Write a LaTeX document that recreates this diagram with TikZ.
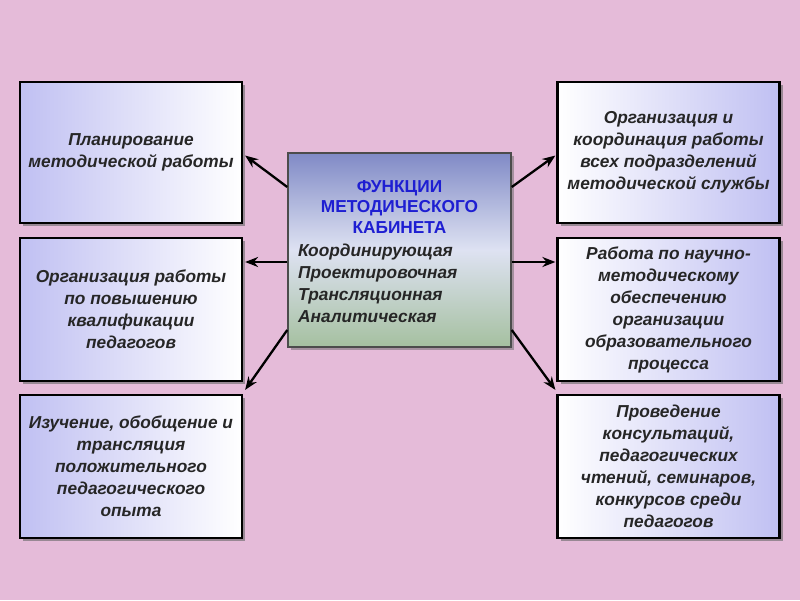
\documentclass[tikz,border=0pt]{standalone}
\usepackage{fontspec}
\setmainfont{Liberation Sans}
\usetikzlibrary{arrows.meta,shadows}
\definecolor{bg}{RGB}{229,187,217}
\definecolor{lav}{RGB}{192,192,242}
\definecolor{ctop}{RGB}{128,138,198}
\definecolor{cmid}{RGB}{222,226,242}
\definecolor{cbot}{RGB}{165,192,160}
\definecolor{ttl}{RGB}{30,30,210}
\tikzset{
  box/.style={draw=black, line width=2.2pt, minimum width=222pt, align=center,
    font=\fontsize{17.3}{22}\selectfont\bfseries\itshape, text=black!85,
    drop shadow={shadow xshift=3pt, shadow yshift=-3pt, fill=black!60, opacity=0.6}},
  lbox/.style={box, left color=lav, right color=white},
  rbox/.style={box, left color=white, right color=lav},
  arr/.style={line width=2.3pt, -{Stealth[length=13pt,width=10pt]}},
}
\begin{document}
\begin{tikzpicture}[x=1pt,y=-1pt]
\fill[bg] (0,0) rectangle (800,600);
\useasboundingbox (0,0) rectangle (800,600);
\node[lbox, minimum height=141pt] (l1) at (131,152.5) {Планирование\\методической работы};
\node[lbox, minimum height=143pt] (l2) at (131,309.5) {Организация работы\\по повышению\\квалификации\\педагогов};
\node[lbox, minimum height=143pt] (l3) at (131,466.5) {Изучение, обобщение и\\трансляция\\положительного\\педагогического\\опыта};
\node[rbox, minimum height=141pt] (r1) at (668.5,152.5) {Организация и\\координация работы\\всех подразделений\\методической службы};
\node[rbox, minimum height=143pt] (r2) at (668.5,309.5) {Работа по научно-\\методическому\\обеспечению\\организации\\образовательного\\процесса};
\node[rbox, minimum height=143pt] (r3) at (668.5,466.5) {Проведение\\консультаций,\\педагогических\\чтений, семинаров,\\конкурсов среди\\педагогов};
\node[draw=black!70, line width=1.5pt, minimum width=223pt, minimum height=194pt,
  top color=ctop, bottom color=cbot, middle color=cmid,
  drop shadow={shadow xshift=3pt, shadow yshift=-3pt, fill=black!60, opacity=0.5}] (c) at (399.5,250) {};
\node[align=center, text=ttl, font=\fontsize{17.3}{20.5}\selectfont\bfseries] (ct) at (399.5,207) {ФУНКЦИИ\\МЕТОДИЧЕСКОГО\\КАБИНЕТА};
\node[align=left, anchor=north west, inner sep=0pt, text=black!85, font=\fontsize{17.3}{22}\selectfont\bfseries\itshape] (cl) at (298,244) {Координирующая\\Проектировочная\\Трансляционная\\Аналитическая};
\draw[arr] ([yshift=63pt]c.west) -- ([xshift=2pt,yshift=-3pt]l1.east);
\draw[arr] ([yshift=-12pt]c.west) -- ([xshift=2pt,yshift=47.5pt]l2.east);
\draw[arr] ([yshift=-80pt]c.west) -- ([xshift=2pt,yshift=4pt]l3.north east);
\draw[arr] ([yshift=63pt]c.east) -- ([xshift=-1pt,yshift=-3pt]r1.west);
\draw[arr] ([yshift=-12pt]c.east) -- ([xshift=-1pt,yshift=47.5pt]r2.west);
\draw[arr] ([yshift=-80pt]c.east) -- ([xshift=-1pt,yshift=4pt]r3.north west);
\end{tikzpicture}
\end{document}
